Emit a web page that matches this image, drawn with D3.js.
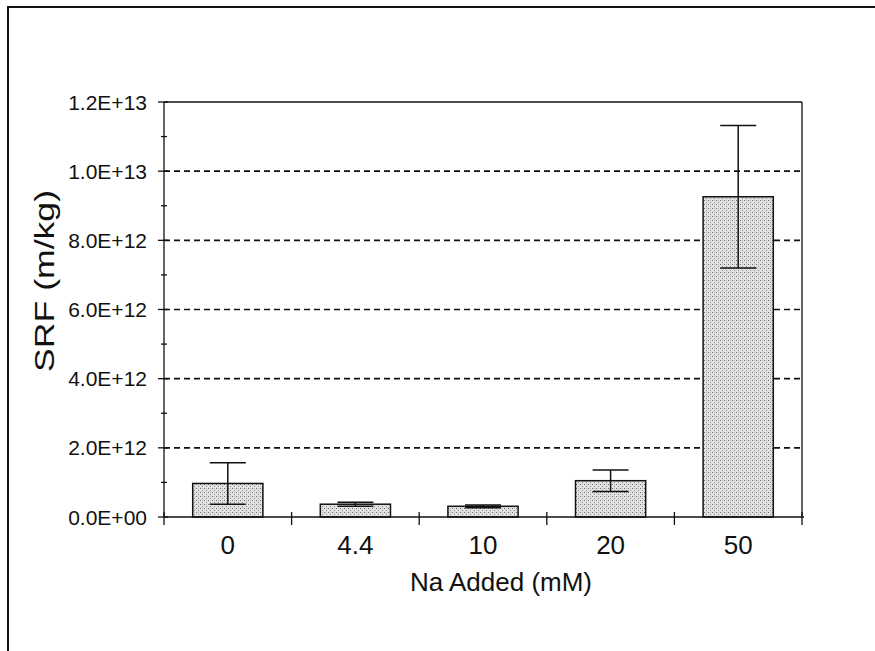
<!DOCTYPE html>
<html>
<head>
<meta charset="utf-8">
<script src="https://cdn.jsdelivr.net/npm/d3@7"></script>
<style>
  html, body { margin: 0; padding: 0; background: #fff; }
  svg { display: block; }
  text { font-family: "Liberation Sans", Arial, sans-serif; fill: #111; }
</style>
</head>
<body>
<svg id="chart" width="875" height="651"></svg>
<script>
// Specific resistance to filtration versus added sodium
const categories = ["0", "4.4", "10", "20", "50"];
const srf = [0.97e12, 0.37e12, 0.31e12, 1.05e12, 9.26e12];
const srfErr = [0.60e12, 0.06e12, 0.04e12, 0.31e12, 2.06e12];
const yTickValues = [0, 2e12, 4e12, 6e12, 8e12, 10e12, 12e12];
const yTickLabels = ["0.0E+00", "2.0E+12", "4.0E+12", "6.0E+12", "8.0E+12", "1.0E+13", "1.2E+13"];
const yMinorValues = [1e12, 3e12, 5e12, 7e12, 9e12, 11e12];
const gridValues = [2e12, 4e12, 6e12, 8e12, 10e12];

const svg = d3.select("#chart");
const plot = { left: 164, right: 802, top: 102, bottom: 517 };

// stippled grey fill for the bars
const defs = svg.append("defs");
const pat = defs.append("pattern")
  .attr("id", "stipple").attr("patternUnits", "userSpaceOnUse")
  .attr("width", 4).attr("height", 4);
pat.append("rect").attr("width", 4).attr("height", 4).attr("fill", "#e2e2e2");
pat.append("rect").attr("x", 0).attr("y", 0).attr("width", 1).attr("height", 1).attr("fill", "#707070");
pat.append("rect").attr("x", 2).attr("y", 2).attr("width", 1).attr("height", 1).attr("fill", "#8c8c8c");
pat.append("rect").attr("x", 2).attr("y", 0).attr("width", 1).attr("height", 1).attr("fill", "#c4c4c4");

// outer frame (top and left edges)
svg.append("line").attr("x1", 8).attr("x2", 875).attr("y1", 7).attr("y2", 7)
  .attr("stroke", "#111").attr("stroke-width", 2);
svg.append("line").attr("x1", 8).attr("x2", 8).attr("y1", 6).attr("y2", 651)
  .attr("stroke", "#111").attr("stroke-width", 2);

const x = d3.scaleBand().domain(categories)
  .range([plot.left, plot.right]).paddingInner(0.45).paddingOuter(0.225);
const y = d3.scaleLinear().domain([0, 1.2e13]).range([plot.bottom, plot.top]);

// dashed grid
svg.append("g").selectAll("line").data(gridValues).join("line")
  .attr("x1", plot.left).attr("x2", plot.right)
  .attr("y1", d => y(d)).attr("y2", d => y(d))
  .attr("stroke", "#111").attr("stroke-width", 1.6).attr("stroke-dasharray", "6,4");

// plot frame: top and right
svg.append("line").attr("x1", plot.left).attr("x2", plot.right)
  .attr("y1", plot.top).attr("y2", plot.top).attr("stroke", "#111").attr("stroke-width", 1.3);
svg.append("line").attr("x1", plot.right).attr("x2", plot.right)
  .attr("y1", plot.top).attr("y2", plot.bottom).attr("stroke", "#111").attr("stroke-width", 1.3);

// bars
svg.append("g").selectAll("rect").data(categories).join("rect")
  .attr("x", d => x(d)).attr("width", x.bandwidth())
  .attr("y", (d, i) => y(srf[i])).attr("height", (d, i) => y(0) - y(srf[i]))
  .attr("fill", "url(#stipple)").attr("stroke", "#111").attr("stroke-width", 1.5);

// error bars
const cap = 18;
const eb = svg.append("g").attr("stroke", "#111").attr("stroke-width", 1.5);
categories.forEach((c, i) => {
  const cx = x(c) + x.bandwidth() / 2;
  const hi = y(srf[i] + srfErr[i]), lo = y(srf[i] - srfErr[i]);
  eb.append("line").attr("x1", cx).attr("x2", cx).attr("y1", hi).attr("y2", lo);
  eb.append("line").attr("x1", cx - cap).attr("x2", cx + cap).attr("y1", hi).attr("y2", hi);
  eb.append("line").attr("x1", cx - cap).attr("x2", cx + cap).attr("y1", lo).attr("y2", lo);
});

// y axis
const yAxis = svg.append("g").attr("stroke", "#111").attr("stroke-width", 1.3);
yAxis.append("line").attr("x1", plot.left).attr("x2", plot.left)
  .attr("y1", plot.top).attr("y2", plot.bottom);
yAxis.selectAll("line.major").data(yTickValues).join("line").attr("class", "major")
  .attr("x1", plot.left - 6).attr("x2", plot.left + 4)
  .attr("y1", d => y(d)).attr("y2", d => y(d));
yAxis.selectAll("line.minor").data(yMinorValues).join("line").attr("class", "minor")
  .attr("x1", plot.left - 3).attr("x2", plot.left + 3)
  .attr("y1", d => y(d)).attr("y2", d => y(d));
svg.append("g").selectAll("text").data(yTickValues).join("text")
  .attr("x", plot.left - 17).attr("y", d => y(d)).attr("dy", "0.36em")
  .attr("text-anchor", "end").attr("font-size", 21)
  .text((d, i) => yTickLabels[i]);

// x axis
const xAxis = svg.append("g").attr("stroke", "#111").attr("stroke-width", 1.3);
xAxis.append("line").attr("x1", plot.left).attr("x2", plot.right + 2)
  .attr("y1", plot.bottom).attr("y2", plot.bottom);
const bounds = categories.map(c => x(c) - x.step() * x.paddingInner() / 2).concat([plot.right]);
xAxis.selectAll("line.tick").data(bounds).join("line").attr("class", "tick")
  .attr("x1", d => d).attr("x2", d => d)
  .attr("y1", plot.bottom - 5).attr("y2", plot.bottom + 8);
svg.append("g").selectAll("text").data(categories).join("text")
  .attr("x", d => x(d) + x.bandwidth() / 2).attr("y", 554)
  .attr("text-anchor", "middle").attr("font-size", 26)
  .text(d => d);

// axis titles
svg.append("text").attr("x", (plot.left + plot.right) / 2 + 18).attr("y", 591)
  .attr("text-anchor", "middle").attr("font-size", 26)
  .text("Na Added (mM)");
svg.append("text").attr("transform", "translate(54,281) rotate(-90)")
  .attr("text-anchor", "middle").attr("font-size", 28)
  .attr("textLength", 182).attr("lengthAdjust", "spacingAndGlyphs")
  .text("SRF (m/kg)");
</script>
</body>
</html>
